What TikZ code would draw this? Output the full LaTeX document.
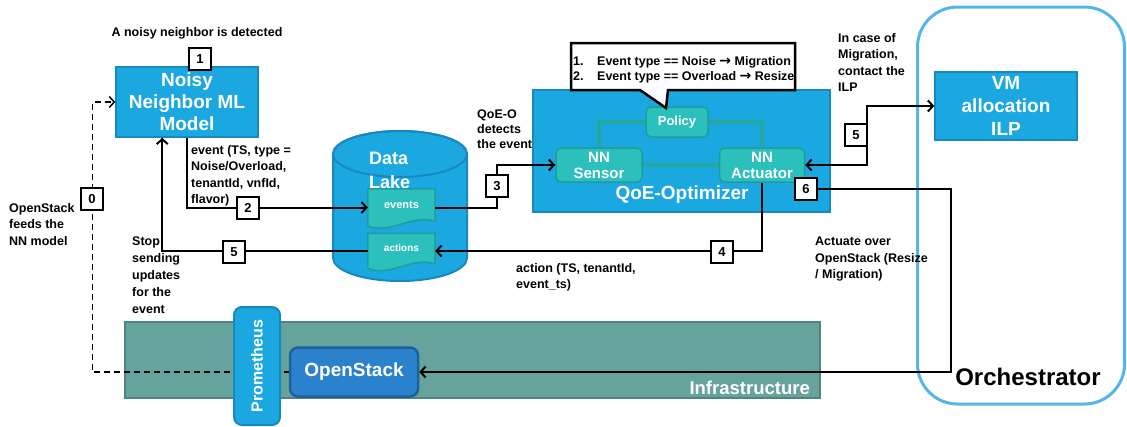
\documentclass[tikz,border=0pt]{standalone}
\usepackage{fontspec}
\setmainfont{Liberation Sans}
\newfontfamily\symfont{DejaVu Sans}
\usetikzlibrary{arrows.meta,calc}
\definecolor{bluefill}{HTML}{1BA8E0}
\definecolor{blueborder}{HTML}{1888BF}
\definecolor{tealfill}{HTML}{2CC0BD}
\definecolor{tealborder}{HTML}{1F9D99}
\definecolor{tealline}{HTML}{26A8A0}
\definecolor{infrafill}{HTML}{66A39D}
\definecolor{infraborder}{HTML}{4E857F}
\definecolor{osfill}{HTML}{2A82CC}
\definecolor{osborder}{HTML}{1E5F9C}
\definecolor{orchblue}{HTML}{55B5E8}
\begin{document}
\begin{tikzpicture}[x=1pt,y=-1pt,
  >={Straight Barb[length=5pt,width=11pt]},
  bluebox/.style={draw=blueborder,fill=bluefill,line width=1.5pt,inner sep=0pt,text=white,align=center,font=\bfseries\fontsize{19}{22}\selectfont},
  tealbox/.style={draw=tealborder,fill=tealfill,line width=1.5pt,rounded corners=5pt,inner sep=0pt,text=white,align=center,font=\bfseries\fontsize{15}{16}\selectfont},
  docbox/.style={inner sep=0pt,text=white,font=\bfseries\fontsize{11}{13}\selectfont},
  docshape/.style={draw=tealborder,fill=tealfill,line width=1.5pt},
  num/.style={draw=black,fill=white,line width=2pt,minimum size=22pt,inner sep=0pt,font=\bfseries\fontsize{13}{15}\selectfont},
  lbl/.style={inner sep=0pt,align=left,font=\bfseries\fontsize{12.5}{16.5}\selectfont},
  conn/.style={line width=2pt,draw=black},
  tconn/.style={line width=4pt,draw=tealline},
]
\useasboundingbox (0,0) rectangle (1127,426);

% Orchestrator
\node[draw=orchblue,line width=3pt,rounded corners=40pt,minimum width=207pt,minimum height=397pt,inner sep=0pt] (orch) at (1021,205.5) {};
\node[inner sep=0pt,font=\bfseries\fontsize{24}{28}\selectfont] (orchtxt) at (1028,377) {Orchestrator};

% Infrastructure
\node[draw=infraborder,fill=infrafill,line width=2pt,minimum width=695pt,minimum height=76pt,inner sep=0pt] (infra) at (472.5,360) {};
\node[anchor=east,inner sep=0pt,text=white,font=\bfseries\fontsize{18.5}{21}\selectfont] (infratxt) at (810,388) {Infrastructure};

% Main boxes
\node[bluebox,minimum width=142pt,minimum height=70pt] (noisy) at (187,102) {Noisy\\Neighbor ML\\Model};
\node[bluebox,minimum width=142pt,minimum height=68pt,font=\bfseries\fontsize{19}{23}\selectfont] (vm) at (1006,106) {VM\\allocation\\ILP};
\node[bluebox,minimum width=297pt,minimum height=122pt] (qoe) at (681.5,151) {};
\node[inner sep=0pt,text=white,font=\bfseries\fontsize{19}{21}\selectfont] (qoetxt) at (682,195) {QoE-Optimizer};

% QoE inner nodes
\node[tealbox,minimum width=62pt,minimum height=30pt,font=\bfseries\fontsize{13}{15}\selectfont] (policy) at (677,122) {Policy};
\node[tealbox,minimum width=86pt,minimum height=34pt] (sensor) at (599,165) {NN\\Sensor};
\node[tealbox,minimum width=85pt,minimum height=34pt] (actuator) at (762,165) {NN\\Actuator};

% Callout
\draw[fill=white,line width=2.5pt,line join=miter] (571,43) -- (795,43) -- (795,90) -- (668,90) -- (666,108) -- (640,90) -- (571,90) -- cycle;
\node[anchor=base west,inner sep=0pt,font=\bfseries\fontsize{12.5}{15}\selectfont] (c1n) at (573,65) {1.};
\node[anchor=base west,inner sep=0pt,font=\bfseries\fontsize{12.5}{15}\selectfont] (c1t) at (597,65) {Event type == Noise {\symfont\fontsize{14}{15}\selectfont→} Migration};
\node[anchor=base west,inner sep=0pt,font=\bfseries\fontsize{12.5}{15}\selectfont] (c2n) at (573,80) {2.};
\node[anchor=base west,inner sep=0pt,font=\bfseries\fontsize{12.5}{15}\selectfont] (c2t) at (597,80) {Event type == Overload {\symfont\fontsize{14}{15}\selectfont→} Resize};

% Data lake cylinder
\draw[draw=blueborder,fill=bluefill,line width=2pt] (333,154) -- (333,258) arc[start angle=180,end angle=0,x radius=67,y radius=23] -- (467,154) arc[start angle=0,end angle=-180,x radius=67,y radius=23] -- cycle;
\draw[draw=blueborder,line width=2pt] (400,154) ellipse[x radius=67,y radius=23];
\node[anchor=north west,inner sep=0pt,align=left,text=white,font=\bfseries\fontsize{18}{24}\selectfont] (dltxt) at (369,152) {Data\\Lake};

% documents
\node[docbox,minimum width=67pt,minimum height=37pt] (ev) at (401.5,207.5) {};
\draw[docshape] (ev.north west) -- (ev.north east) -- ($(ev.south east)+(0,-5)$) .. controls ($(ev.south)+(8,-12)$) and ($(ev.south)+(-8,8)$) .. (ev.south west) -- cycle;
\node[docbox] (evtxt) at ($(ev.center)+(0,-3)$) {events};
\node[docbox,minimum width=67pt,minimum height=35pt] (act) at (401.5,251) {};
\draw[docshape] (act.north west) -- (act.north east) -- ($(act.south east)+(0,-5)$) .. controls ($(act.south)+(8,-12)$) and ($(act.south)+(-8,8)$) .. (act.south west) -- cycle;
\node[docbox,font=\bfseries\fontsize{10}{12}\selectfont] (acttxt) at ($(act.center)+(0,-3)$) {actions};

% Connectors inside QoE
\draw[tconn] (policy.west) -| (sensor.north);
\draw[tconn] (policy.east) -| (actuator.north);
\draw[tconn] (sensor.east) -- (actuator.west);

% dashed feed (behind Prometheus)
\node[inner sep=0pt,minimum width=128pt,minimum height=49pt] (osbg) at (354,372) {};
\draw[line width=1.5pt,dash pattern=on 6pt off 4pt,->] (osbg.west) -| ($(noisy.west)+(-23,0)$) -- (noisy.west);

% Prometheus and OpenStack
\node[draw=blueborder,fill=bluefill,line width=2pt,rounded corners=8pt,rotate=90,minimum width=118pt,minimum height=46pt,inner sep=0pt,text=white,font=\bfseries\fontsize{16}{18}\selectfont] (prom) at (257,366) {Prometheus};
\node[draw=osborder,fill=osfill,line width=2.5pt,rounded corners=8pt,minimum width=128pt,minimum height=49pt,inner sep=0pt,text=white,font=\bfseries\fontsize{19}{21}\selectfont] (os) at (354,372) {OpenStack};

% Black connectors
\draw[conn,->] (noisy.south) |- (ev.west);
\draw[conn,->] (act.west) -| ($(noisy.south west)+(47,0)$);
\draw[conn,->] (ev.east) -| ($(sensor.west)+(-58,0)$) -- (sensor.west);
\draw[conn,->] (actuator.south) |- (act.east);
\draw[conn,<->] (actuator.east) -| ($(vm.west)+(-67,0)$) -- (vm.west);

% number boxes
\node[num] (n1) at (200,59) {1};
\node[num] (n0) at (92,199) {0};
\node[num] (n2) at (248,208) {2};
\node[num] (n5a) at (234,252) {5};
\node[num] (n3) at (497,186) {3};
\node[num] (n4) at (722,252) {4};
\node[num] (n5b) at (856,135) {5};
\node[num] (n6) at (806,189) {6};
\draw[conn,->] (n6.east) -| ($(os.east)+(532,0)$) -- (os.east);

% Labels
\node[lbl,anchor=base] (l1) at (197,36) {A noisy neighbor is detected};
\node[lbl,anchor=north west] (levent) at (191,145) {event (TS, type =\\Noise/Overload,\\tenantId, vnfId,\\flavor)};
\node[lbl,anchor=north west] (lfeed) at (9,203) {OpenStack\\feeds the\\NN model};
\node[lbl,anchor=north west,font=\bfseries\fontsize{12.5}{17}\selectfont] (lstop) at (132,237) {Stop\\sending\\updates\\for the\\event};
\node[lbl,anchor=north west,font=\bfseries\fontsize{12.5}{15}\selectfont] (lqoe) at (477,110) {QoE-O\\detects\\the event};
\node[lbl,anchor=north west] (lcase) at (838,33) {In case of\\Migration,\\contact the\\ILP};
\node[lbl,anchor=north west] (laction) at (516,263) {action (TS, tenantId,\\event\_ts)};
\node[lbl,anchor=north west] (lactuate) at (815,237) {Actuate over\\OpenStack (Resize\\/ Migration)};
\end{tikzpicture}
\end{document}
